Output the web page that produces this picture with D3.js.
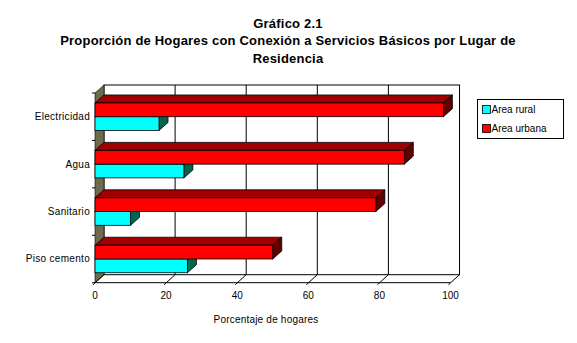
<!DOCTYPE html>
<html>
<head>
<meta charset="utf-8">
<script src="https://cdn.jsdelivr.net/npm/d3@7"></script>
<style>
  html, body { margin: 0; padding: 0; background: #fff; }
  svg { display: block; font-family: "Liberation Sans", Arial, sans-serif; }
</style>
</head>
<body>
<svg id="chart" width="577" height="343"></svg>
<script>
// Data
const categories = ["Electricidad", "Agua", "Sanitario", "Piso cemento"];
const seriesNames = ["Area rural", "Area urbana"];
const rural = [18, 25, 10, 26];
const urbana = [98, 87, 79, 50];
const xTicks = [0, 20, 40, 60, 80, 100];
const titleLines = ["Gráfico 2.1",
  "Proporción de Hogares con Conexión a Servicios Básicos por Lugar de",
  "Residencia"];
const xTitle = "Porcentaje de hogares";

const svg = d3.select("#chart");

// Pseudo-3D plot frame: front plane plus a receding depth offset
const plotLeft = 95, plotRight = 450.5, plotTop = 93, plotBottom = 282.7;
const dx = 9, dy = 8;

const x = d3.scaleLinear().domain([0, 100]).range([plotLeft, plotRight]);
const y = d3.scaleBand().domain(categories).range([plotTop, plotBottom]).padding(0);

const colors = {
  "Area rural": { front: "#00ffff", top: "#00a0a0", side: "#006650" },
  "Area urbana": { front: "#ff0000", top: "#a00000", side: "#600000" }
};

// Back wall
svg.append("rect")
  .attr("x", plotLeft + dx).attr("y", plotTop - dy)
  .attr("width", plotRight - plotLeft).attr("height", plotBottom - plotTop)
  .attr("fill", "#fff").attr("stroke", "#000").attr("stroke-width", 1);

// Vertical gridlines on the back wall
svg.append("g").selectAll("line")
  .data(xTicks.filter(t => t > 0 && t < 100))
  .join("line")
  .attr("x1", d => x(d) + dx).attr("x2", d => x(d) + dx)
  .attr("y1", plotTop - dy).attr("y2", plotBottom - dy)
  .attr("stroke", "#000");

// Left side wall
svg.append("path")
  .attr("d", `M${plotLeft},${plotTop}L${plotLeft + dx},${plotTop - dy}L${plotLeft + dx},${plotBottom - dy}L${plotLeft},${plotBottom}Z`)
  .attr("fill", "#6e6a4c").attr("stroke", "#000").attr("stroke-width", 0.6);

// Floor edges and axis line
svg.append("line")
  .attr("x1", plotLeft).attr("x2", plotRight).attr("y1", plotBottom).attr("y2", plotBottom)
  .attr("stroke", "#000");
svg.append("g").selectAll("line")
  .data(xTicks)
  .join("line")
  .attr("x1", d => x(d) - 2).attr("y1", plotBottom + 2)
  .attr("x2", d => x(d) + dx).attr("y2", plotBottom - dy)
  .attr("stroke", "#000");

// Category ticks on the left edge
svg.append("g").selectAll("line")
  .data(categories.map(c => y(c)).concat([plotBottom]))
  .join("line")
  .attr("x1", plotLeft - 3).attr("x2", plotLeft)
  .attr("y1", d => d).attr("y2", d => d)
  .attr("stroke", "#000");

// Bars
const barH = y.bandwidth() * 0.29;
const rows = categories.map((c, i) => ({ c, rural: rural[i], urbana: urbana[i] }));

function bar3d(g, v, y0, col) {
  const x0 = x(0), x1 = x(v);
  g.append("path")
    .attr("d", `M${x0},${y0}L${x0 + dx},${y0 - dy}L${x1 + dx},${y0 - dy}L${x1},${y0}Z`)
    .attr("fill", col.top).attr("stroke", "#000").attr("stroke-width", 0.8);
  g.append("path")
    .attr("d", `M${x1},${y0}L${x1 + dx},${y0 - dy}L${x1 + dx},${y0 + barH - dy}L${x1},${y0 + barH}Z`)
    .attr("fill", col.side).attr("stroke", "#000").attr("stroke-width", 0.8);
  g.append("rect")
    .attr("x", x0).attr("y", y0)
    .attr("width", x1 - x0).attr("height", barH)
    .attr("fill", col.front).attr("stroke", "#000").attr("stroke-width", 0.8);
}

const barsG = svg.append("g");
rows.forEach(r => {
  const mid = y(r.c) + y.bandwidth() / 2;
  const g = barsG.append("g");
  // lower bar first so the upper bar's front face covers its top face
  bar3d(g, r.rural, mid, colors["Area rural"]);
  bar3d(g, r.urbana, mid - barH, colors["Area urbana"]);
});

// Category labels
svg.append("g").selectAll("text")
  .data(categories)
  .join("text")
  .attr("x", plotLeft - 5)
  .attr("y", d => y(d) + y.bandwidth() / 2)
  .attr("dy", "0.35em")
  .attr("text-anchor", "end")
  .attr("font-size", 10)
  .attr("letter-spacing", 0.3)
  .text(d => d);

// X tick labels
svg.append("g").selectAll("text")
  .data(xTicks)
  .join("text")
  .attr("x", d => x(d))
  .attr("y", plotBottom + 13)
  .attr("dy", "0.35em")
  .attr("text-anchor", "middle")
  .attr("font-size", 10)
  .text(d => d);

// X axis title
svg.append("text")
  .attr("x", 266).attr("y", 319)
  .attr("dy", "0.35em")
  .attr("text-anchor", "middle")
  .attr("font-size", 10)
  .attr("letter-spacing", 0.2)
  .text(xTitle);

// Title
svg.append("g").selectAll("text")
  .data(titleLines)
  .join("text")
  .attr("x", 288)
  .attr("y", (d, i) => 23 + i * 17.5)
  .attr("dy", "0.35em")
  .attr("text-anchor", "middle")
  .attr("font-size", 13)
  .attr("letter-spacing", 0.2)
  .attr("font-weight", "bold")
  .text(d => d);

// Legend
const lg = svg.append("g").attr("transform", "translate(477.5,99.5)");
lg.append("rect").attr("width", 86).attr("height", 39)
  .attr("fill", "#fff").attr("stroke", "#000");
seriesNames.forEach((s, i) => {
  const yy = 10 + i * 19;
  lg.append("rect").attr("x", 5).attr("y", yy - 4).attr("width", 8).attr("height", 8)
    .attr("fill", colors[s].front).attr("stroke", "#000").attr("stroke-width", 0.8);
  lg.append("text").attr("x", 14).attr("y", yy).attr("dy", "0.35em")
    .attr("font-size", 10).text(s);
});
</script>
</body>
</html>
